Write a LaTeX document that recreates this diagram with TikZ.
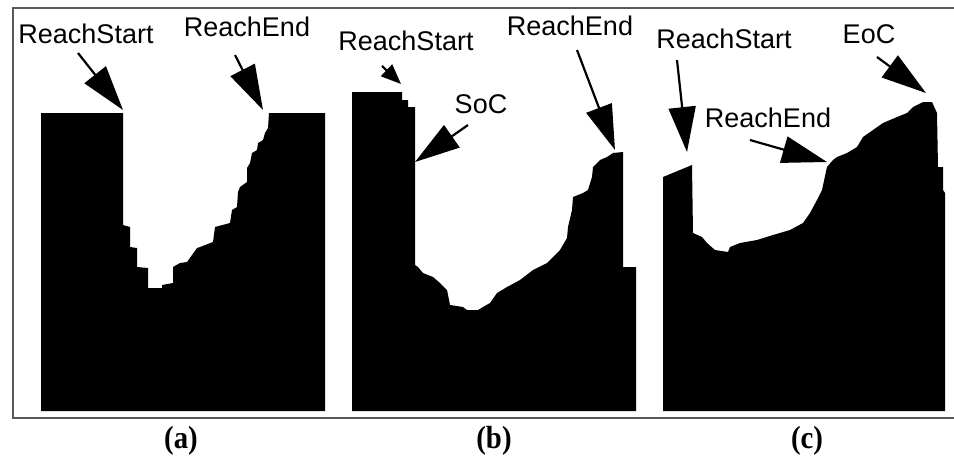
\documentclass[tikz,border=0pt]{standalone}
\usepackage{fontspec}
\setmainfont{Liberation Serif}
\setsansfont{Liberation Sans}
\usetikzlibrary{arrows.meta}

\begin{document}
\begin{tikzpicture}[x=1pt,y=-1pt]
% Styles
\tikzset{
    lbl/.style={font=\sffamily\fontsize{27}{27}\selectfont, inner sep=0pt, anchor=base},
    caption/.style={font=\bfseries\fontsize{32}{32}\selectfont, inner sep=0pt, xscale=0.9},
    pointer/.style={line width=2.2pt, -{Triangle[length=45pt,width=27pt]}},
    smallpointer/.style={line width=2.2pt, -{Triangle[length=20pt,width=16pt]}},
    profile/.style={fill=black}
}
\useasboundingbox (0,0) rectangle (954,467);
% Frame
\draw[gray!70!black, line width=2pt] (954,8) -- (13,8) -- (13,418) -- (954,418);
% Profiles
\fill[profile] (41,411) -- (41,113) -- (123,113) -- (123,225) -- (130,227) -- (130,247)
    -- (137,248) -- (137,267) -- (148,268) -- (148,288) -- (162,288) -- (162,285)
    -- (173,283) -- (173,267) -- (180,263) -- (187,262) -- (197,248) -- (200,247)
    -- (213,242) -- (215,227) -- (230,223) -- (232,210) -- (237,207) -- (238,192)
    -- (240,187) -- (247,182) -- (247,168) -- (250,163) -- (252,153) -- (257,150)
    -- (258,143) -- (263,140) -- (265,133) -- (268,128) -- (269,113) -- (325,113)
    -- (325,411) -- cycle;
\fill[profile] (352,411) -- (352,92) -- (402,92) -- (402,100) -- (408,100) -- (408,107)
    -- (415,107) -- (415,265) -- (418,267) -- (423,273) -- (433,277) -- (440,283)
    -- (447,290) -- (450,305) -- (463,307) -- (467,310) -- (478,310) -- (483,307)
    -- (490,303) -- (497,293) -- (507,287) -- (520,280) -- (533,270) -- (547,263)
    -- (553,257) -- (560,250) -- (567,238) -- (568,227) -- (572,210) -- (573,197)
    -- (583,193) -- (588,190) -- (592,177) -- (593,167) -- (600,160) -- (607,157)
    -- (613,153) -- (623,152) -- (623,267) -- (636,267) -- (636,411) -- cycle;
\fill[profile] (663,411) -- (663,177) -- (692,165) -- (693,233) -- (702,237) -- (707,243)
    -- (715,250) -- (728,252) -- (730,247) -- (740,243) -- (757,240) -- (773,235)
    -- (790,230) -- (803,223) -- (810,213) -- (817,200) -- (822,190) -- (827,167)
    -- (833,160) -- (837,157) -- (847,153) -- (857,147) -- (863,137) -- (873,130)
    -- (883,123) -- (897,117) -- (907,113) -- (913,107) -- (923,102) -- (932,102)
    -- (937,113) -- (938,167) -- (943,167) -- (943,190) -- (945,193) -- (945,411) -- cycle;
% Labels
\node[lbl] (startA) at (86,43) {ReachStart};
\node[lbl] (endA) at (247,36) {ReachEnd};
\node[lbl] (startB) at (406,50) {ReachStart};
\node[lbl] (socB) at (481,113) {SoC};
\node[lbl] (endB) at (570,35) {ReachEnd};
\node[lbl] (startC) at (724,48) {ReachStart};
\node[lbl] (eocC) at (869,43) {EoC};
\node[lbl] (endC) at (768,127) {ReachEnd};
% Arrow ends
\coordinate (startAtail) at (78,53);   \coordinate (startAtip) at (123,110);
\coordinate (endAtail) at (235,55);    \coordinate (endAtip) at (263,110);
\coordinate (startBtail) at (382,66);  \coordinate (startBtip) at (401,84);
\coordinate (socBtail) at (468,125);   \coordinate (socBtip) at (415,162);
\coordinate (endBtail) at (577,50);    \coordinate (endBtip) at (615,150);
\coordinate (startCtail) at (677,60);  \coordinate (startCtip) at (687,152);
\coordinate (endCtail) at (750,140);   \coordinate (endCtip) at (827,162);
\coordinate (eocCtail) at (877,57);    \coordinate (eocCtip) at (926,93);
% Arrows
\draw[pointer] (startAtail) -- (startAtip);
\draw[pointer] (endAtail) -- (endAtip);
\draw[smallpointer] (startBtail) -- (startBtip);
\draw[pointer] (socBtail) -- (socBtip);
\draw[pointer] (endBtail) -- (endBtip);
\draw[pointer] (startCtail) -- (startCtip);
\draw[pointer] (endCtail) -- (endCtip);
\draw[pointer] (eocCtail) -- (eocCtip);
% Captions
\node[caption] (capA) at (181,441) {(a)};
\node[caption] (capB) at (494,441) {(b)};
\node[caption] (capC) at (807,441) {(c)};
\end{tikzpicture}
\end{document}
